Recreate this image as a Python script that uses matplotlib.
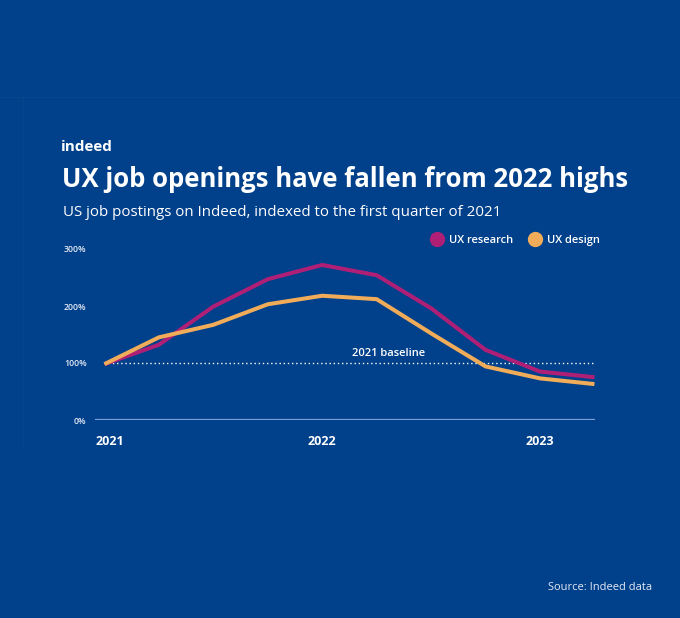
import matplotlib.pyplot as plt
from matplotlib.lines import Line2D
from matplotlib.transforms import ScaledTranslation

# quarterly index values, 2021 Q1 = 100%
quarters = ['2021 Q1', '2021 Q2', '2021 Q3', '2021 Q4',
            '2022 Q1', '2022 Q2', '2022 Q3', '2022 Q4',
            '2023 Q1', '2023 Q2']
ux_research = [98, 132, 199, 247, 272, 254, 196, 123, 85, 75]
ux_design = [98, 145, 167, 203, 218, 212, 152, 94, 73, 63]

year_ticks = [0, 4, 8]
year_labels = ['2021', '2022', '2023']
y_ticks = [0, 100, 200, 300]
y_labels = ['0%', '100%', '200%', '300%']

bg = '#01408A'
magenta = '#B01F76'
orange = '#F1AC5A'
font = 'Open Sans'

plt.rcParams['font.family'] = [font, 'DejaVu Sans']

fig = plt.figure(figsize=(6.8, 6.18), dpi=100, facecolor=bg)

# faint framing lines from the original image
fig.add_artist(Line2D([0, 1], [1 - 97 / 618] * 2, color='white', alpha=0.035, lw=0.8))
fig.add_artist(Line2D([23 / 680] * 2, [1 - 97 / 618, 1 - 447 / 618], color='white', alpha=0.025, lw=0.8))

ax = fig.add_axes([95 / 680, 1 - 420 / 618, 500 / 680, 171 / 618])
ax.set_facecolor(bg)
x = list(range(len(quarters)))

ax.plot(x, ux_research, color=magenta, lw=2.9, solid_capstyle='butt', solid_joinstyle='round',
        label='UX research', clip_on=False, zorder=3)
ax.plot(x, ux_design, color=orange, lw=2.9, solid_capstyle='butt', solid_joinstyle='round',
        label='UX design', clip_on=False, zorder=4)

ax.axhline(0, color='#7C9FDA', lw=1.6, zorder=2)
ax.hlines(100, 0, len(quarters) - 1, colors='white', lw=1.0, linestyles=(0, (1, 2)), zorder=2)
ax.text(5.22, 107, '2021 baseline', color='white', fontsize=8, fontweight='semibold',
        ha='center', va='bottom')

ax.set_xlim(-0.173, len(quarters) - 1 + 0.01)
ax.set_ylim(0, 300)
for s in ax.spines.values():
    s.set_visible(False)

ax.set_xticks(year_ticks)
ax.set_xticklabels(year_labels)
ax.set_yticks(y_ticks)
ax.set_yticklabels(y_labels)
ax.tick_params(axis='x', length=0, pad=11, labelsize=9, labelcolor='white')
ax.tick_params(axis='y', length=0, pad=6, labelsize=6.3, labelcolor='#E4EAF5')
for lbl in ax.get_xticklabels():
    lbl.set_fontweight('bold')
for lbl in ax.get_yticklabels():
    lbl.set_fontweight('semibold')
first = ax.get_xticklabels()[0]
first.set_ha('left')
first.set_transform(first.get_transform() + ScaledTranslation(-9.4 / 100, 0, fig.dpi_scale_trans))

handles = [Line2D([], [], marker='o', ls='none', markersize=10, color=magenta),
           Line2D([], [], marker='o', ls='none', markersize=10, color=orange)]
leg = fig.legend(handles, ['UX research', 'UX design'], ncol=2, frameon=False,
                 loc='center right', bbox_to_anchor=(605 / 680, 1 - 240 / 618),
                 borderpad=0, handletextpad=0.56, columnspacing=1.45, handlelength=1.0,
                 prop={'family': font, 'size': 8.0, 'weight': 'semibold'})
for t in leg.get_texts():
    t.set_color('white')

fig.text(61 / 680, 1 - 147 / 618, 'indeed', color='white', fontsize=11, fontweight='bold',
         va='center', ha='left')
fig.text(62 / 680, 1 - 187 / 618, 'UX job openings have fallen from 2022 highs', color='white',
         fontsize=18.5, fontweight='bold', ha='left', va='baseline')
fig.text(63 / 680, 1 - 216 / 618, 'US job postings on Indeed, indexed to the first quarter of 2021',
         color='white', fontsize=10.9, ha='left', va='baseline')
fig.text(652 / 680, 1 - 588 / 618, 'Source: Indeed data', color='#E4EAF5', fontsize=8,
         ha='right', va='center')

fig.savefig('out.png', dpi=100, facecolor=bg)
